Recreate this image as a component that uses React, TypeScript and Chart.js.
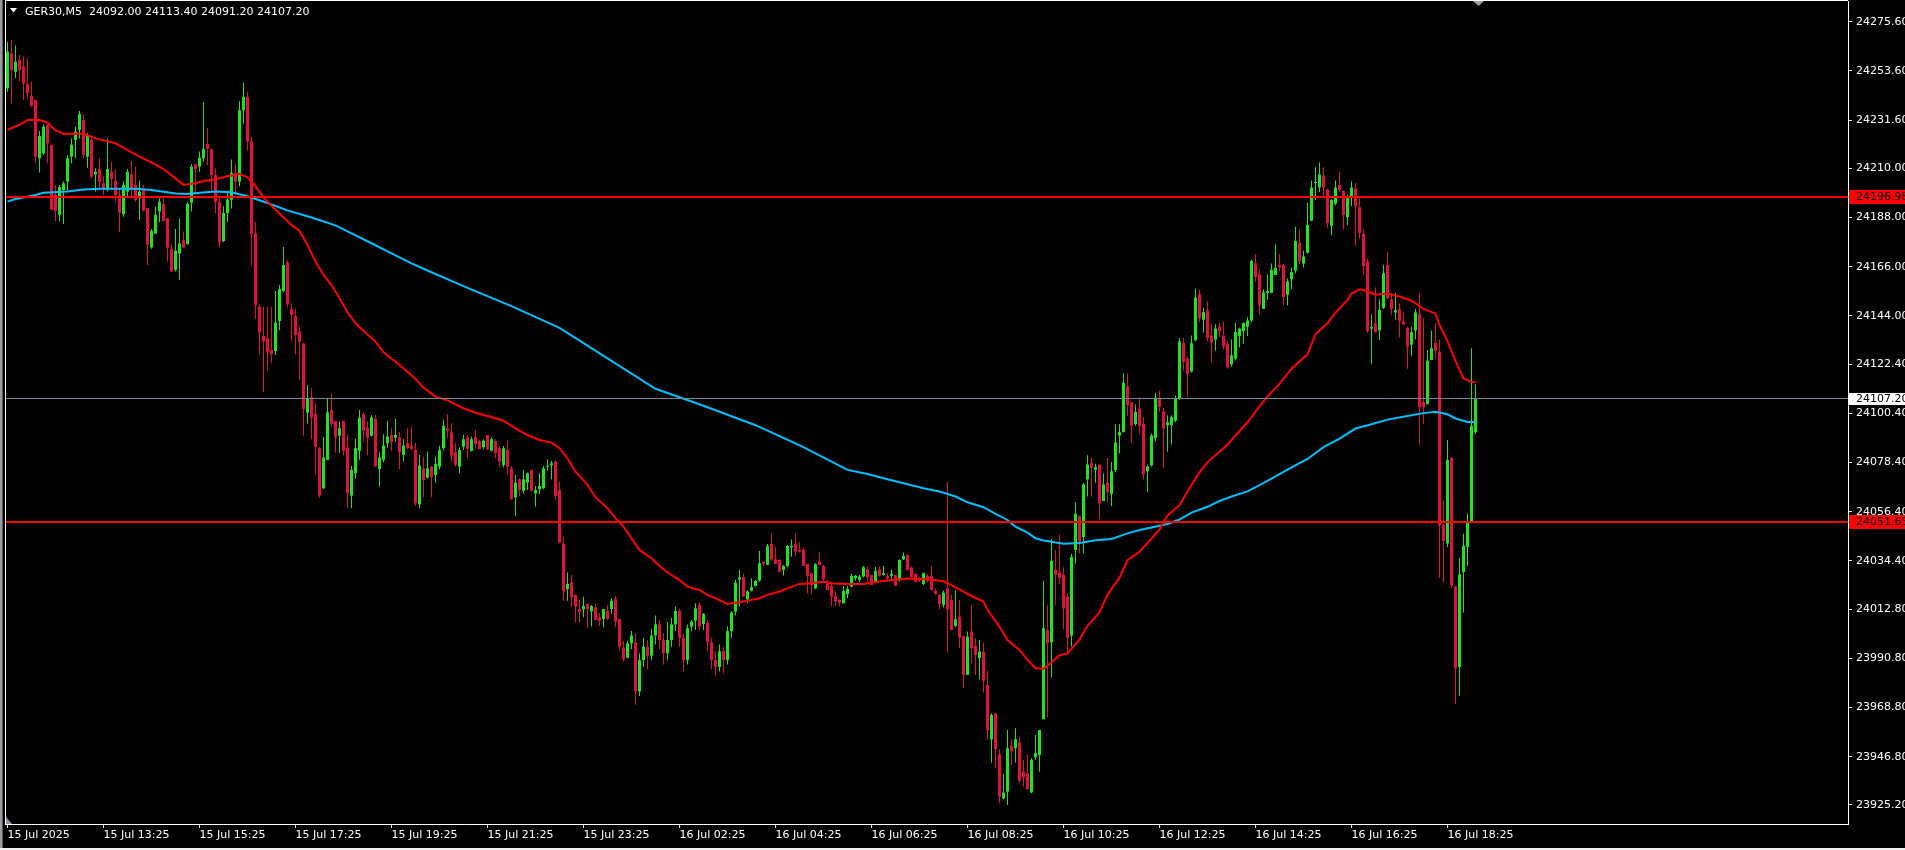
import React, { useEffect, useRef } from 'react';
import { Chart, registerables } from 'chart.js';

Chart.register(...registerables);

const symbolTitle = 'GER30,M5';

const opens = [
  24245.8, 24261.4, 24253.2, 24258.5, 24255.5, 24247.6, 24242.4, 24240.6, 24214.5, 24216.7,
  24229.4, 24220.5, 24198.1, 24189.2, 24200.3, 24204.1, 24215.2, 24222.7, 24227.2, 24231.6,
  24215.2, 24222.7, 24207.3, 24209.7, 24203.3, 24200.8, 24208.5, 24204.4, 24198.1, 24189.5,
  24199.6, 24207.3, 24202.6, 24196.6, 24200.3, 24192.2, 24174.6, 24180.8, 24190.7, 24194.1,
  24187.7, 24174.0, 24164.6, 24171.9, 24178.0, 24176.1, 24194.7, 24211.8, 24210.8, 24214.5,
  24220.9, 24218.5, 24207.0, 24195.0, 24177.5, 24190.0, 24196.0, 24208.0, 24204.0, 24236.0,
  24242.0, 24222.0, 24181.0, 24148.1, 24135.0, 24134.0, 24128.7, 24128.3, 24141.7, 24155.1,
  24168.0, 24147.1, 24144.0, 24137.0, 24131.7, 24100.7, 24107.6, 24100.1, 24084.8, 24066.9,
  24079.6, 24101.9, 24097.0, 24090.4, 24097.0, 24085.1, 24063.6, 24073.6, 24083.6, 24100.0,
  24094.0, 24090.4, 24097.9, 24075.5, 24079.6, 24087.0, 24090.7, 24089.5, 24089.7, 24081.8,
  24087.0, 24086.0, 24084.0, 24059.7, 24075.8, 24071.6, 24076.6, 24072.8, 24076.6, 24084.8,
  24093.7, 24091.9, 24083.0, 24076.6, 24085.5, 24089.7, 24083.6, 24089.7, 24088.0, 24085.2,
  24090.7, 24083.7, 24088.0, 24084.8, 24077.3, 24084.0, 24075.8, 24062.9, 24070.9, 24065.8,
  24069.4, 24075.1, 24064.6, 24066.4, 24066.9, 24076.6, 24077.3, 24078.8, 24066.1, 24042.0,
  24021.8, 24024.8, 24019.2, 24012.9, 24012.8, 24015.1, 24011.7, 24013.6, 24009.2, 24008.4,
  24012.1, 24012.9, 24017.4, 24008.3, 23995.6, 23991.1, 23997.5, 23998.0, 23976.0, 23990.0,
  23996.0, 23992.0, 24001.0, 24006.0, 23999.0, 23993.0, 23999.0, 24006.0, 24012.0, 24000.0,
  23990.0, 24005.0, 24007.7, 24014.7, 24006.2, 24006.8, 23998.0, 23990.0, 23987.0, 23994.0,
  23990.0, 24003.0, 24011.7, 24026.0, 24027.1, 24017.2, 24021.1, 24023.2, 24025.6, 24033.9,
  24032.6, 24042.0, 24035.1, 24034.8, 24030.4, 24032.1, 24040.5, 24042.0, 24039.3, 24039.6,
  24033.0, 24028.9, 24022.1, 24034.1, 24032.1, 24024.4, 24023.2, 24018.7, 24016.9, 24015.4,
  24019.6, 24022.9, 24026.6, 24025.9, 24027.4, 24030.6, 24028.1, 24025.1, 24030.6, 24028.1,
  24027.7, 24027.7, 24028.1, 24025.9, 24035.1, 24037.1, 24031.5, 24028.6, 24026.6, 24024.1,
  24027.7, 24027.7, 24021.1, 24019.2, 24014.7, 24022.1, 24016.9, 24005.3, 24009.5, 24000.8,
  23983.4, 24002.8, 23996.4, 23990.9, 23993.8, 23978.9, 23954.6, 23966.2, 23948.0, 23928.2,
  23931.2, 23951.6, 23950.6, 23953.1, 23940.1, 23939.4, 23930.8, 23946.6, 23947.6, 23963.6,
  24003.5, 23998.0, 24030.4, 24029.1, 24028.2, 24018.5, 24001.0, 24039.3, 24054.4, 24045.1,
  24070.9, 24078.2, 24075.1, 24077.5, 24061.2, 24069.4, 24064.3, 24075.1, 24090.5, 24092.0,
  24112.6, 24105.3, 24095.6, 24102.5, 24095.6, 24074.5, 24077.1, 24089.4, 24106.8, 24101.3,
  24095.1, 24095.1, 24097.1, 24106.8, 24131.8, 24124.9, 24119.2, 24133.1, 24153.7, 24142.3,
  24146.5, 24135.2, 24133.4, 24139.2, 24135.2, 24131.5, 24122.3, 24124.9, 24134.9, 24137.2,
  24139.2, 24141.9, 24167.6, 24162.6, 24147.1, 24154.3, 24154.3, 24162.3, 24166.8, 24166.8,
  24153.5, 24160.4, 24164.2, 24176.7, 24167.4, 24172.2, 24186.6, 24203.5, 24201.4, 24206.7,
  24200.6, 24184.3, 24194.2, 24202.6, 24199.8, 24188.2, 24197.1, 24200.9, 24192.6, 24180.7,
  24168.4, 24138.3, 24140.7, 24137.5, 24147.6, 24166.8, 24151.4, 24145.5, 24147.1, 24141.5,
  24138.6, 24131.1, 24137.5, 24144.7, 24105.6, 24104.5, 24124.3, 24131.9, 24127.9, 24050.5,
  24042.2, 24080.5, 24023.0, 23986.9, 24029.4, 24040.6, 24052.1, 24092.0,
];

const highs = [
  24266.6, 24267.4, 24264.9, 24260.7, 24260.0, 24259.2, 24248.8, 24240.6, 24226.7, 24229.7,
  24230.1, 24220.5, 24202.6, 24202.6, 24204.1, 24216.0, 24223.4, 24228.7, 24235.7, 24234.2,
  24225.7, 24224.9, 24210.0, 24214.5, 24206.3, 24223.4, 24213.0, 24209.7, 24201.1, 24204.1,
  24209.7, 24213.3, 24210.8, 24204.4, 24202.6, 24192.2, 24182.9, 24192.9, 24196.6, 24196.6,
  24187.7, 24176.1, 24182.9, 24187.7, 24181.7, 24195.1, 24211.8, 24212.1, 24217.5, 24239.8,
  24227.9, 24219.0, 24210.0, 24198.0, 24193.0, 24200.0, 24214.0, 24212.0, 24240.0, 24248.4,
  24244.0, 24224.0, 24186.0, 24149.2, 24148.1, 24148.1, 24148.1, 24155.1, 24157.8, 24174.8,
  24169.0, 24149.6, 24147.1, 24139.2, 24131.7, 24113.1, 24111.6, 24104.9, 24085.5, 24089.8,
  24107.4, 24108.9, 24097.0, 24096.7, 24097.0, 24090.7, 24077.0, 24088.9, 24101.9, 24100.7,
  24096.7, 24099.7, 24099.7, 24083.0, 24091.0, 24097.0, 24093.7, 24097.9, 24092.2, 24088.8,
  24093.7, 24094.5, 24087.0, 24081.8, 24081.0, 24083.3, 24076.9, 24081.0, 24085.8, 24097.7,
  24100.1, 24096.0, 24087.0, 24085.2, 24090.7, 24090.7, 24090.0, 24093.0, 24088.5, 24088.8,
  24090.7, 24089.7, 24088.8, 24085.8, 24085.8, 24088.0, 24076.9, 24072.8, 24071.3, 24075.1,
  24073.9, 24075.1, 24067.9, 24073.6, 24076.9, 24079.8, 24079.2, 24079.2, 24069.9, 24045.3,
  24029.2, 24028.1, 24019.2, 24016.9, 24018.4, 24015.1, 24014.7, 24015.1, 24011.0, 24012.9,
  24014.7, 24017.7, 24018.7, 24008.3, 23998.7, 23998.7, 24003.0, 24002.0, 23993.0, 24000.0,
  23999.0, 24004.0, 24010.0, 24008.0, 24002.0, 24007.2, 24009.0, 24014.0, 24013.0, 24002.0,
  24006.0, 24008.0, 24015.4, 24015.7, 24011.0, 24008.0, 24000.0, 23994.0, 23997.0, 23996.0,
  24005.0, 24012.0, 24025.9, 24030.4, 24028.6, 24021.4, 24026.6, 24025.9, 24038.8, 24034.2,
  24042.0, 24046.7, 24040.5, 24035.1, 24032.6, 24041.5, 24044.0, 24046.7, 24043.0, 24040.0,
  24033.0, 24029.2, 24033.3, 24038.1, 24032.6, 24025.9, 24025.1, 24020.7, 24017.2, 24023.2,
  24023.2, 24028.6, 24028.1, 24028.1, 24032.1, 24031.8, 24028.1, 24031.8, 24031.8, 24032.1,
  24028.9, 24030.6, 24028.1, 24035.1, 24038.1, 24037.1, 24031.5, 24028.9, 24027.4, 24029.2,
  24028.6, 24032.1, 24022.1, 24019.6, 24021.1, 24069.7, 24019.2, 24021.1, 24016.9, 24000.8,
  24002.8, 24014.7, 23999.8, 23999.0, 23997.8, 23985.3, 23966.2, 23966.2, 23950.1, 23939.1,
  23958.8, 23954.6, 23959.5, 23955.8, 23945.4, 23947.6, 23946.1, 23956.5, 23958.8, 24025.4,
  24014.7, 24044.2, 24039.3, 24046.2, 24031.6, 24020.0, 24037.5, 24060.6, 24054.7, 24069.4,
  24081.7, 24080.5, 24077.8, 24077.5, 24073.5, 24080.5, 24078.6, 24095.4, 24095.6, 24118.3,
  24118.3, 24105.3, 24104.4, 24107.5, 24098.7, 24077.5, 24091.4, 24109.5, 24110.5, 24102.8,
  24099.5, 24099.5, 24108.4, 24134.1, 24134.1, 24125.7, 24135.2, 24156.2, 24155.7, 24147.6,
  24150.7, 24140.3, 24140.3, 24140.8, 24141.4, 24132.6, 24133.4, 24140.8, 24138.8, 24141.1,
  24143.4, 24169.2, 24171.6, 24164.7, 24155.9, 24162.6, 24167.4, 24175.9, 24171.6, 24167.4,
  24160.7, 24165.5, 24183.9, 24182.7, 24173.2, 24194.6, 24204.6, 24210.5, 24212.6, 24210.5,
  24200.9, 24196.2, 24204.6, 24208.6, 24200.3, 24198.2, 24204.1, 24203.5, 24196.6, 24182.7,
  24169.5, 24144.7, 24156.7, 24151.4, 24166.8, 24172.7, 24154.3, 24154.3, 24149.5, 24145.5,
  24139.1, 24139.1, 24147.1, 24154.3, 24142.8, 24128.7, 24137.5, 24140.7, 24133.5, 24061.6,
  24088.5, 24080.8, 24023.3, 24035.8, 24046.5, 24055.6, 24129.5, 24113.4,
];

const lows = [
  24244.3, 24239.1, 24250.3, 24248.8, 24240.6, 24241.3, 24237.6, 24212.3, 24208.1, 24216.0,
  24212.3, 24191.4, 24186.5, 24186.2, 24185.1, 24199.6, 24212.3, 24214.5, 24223.4, 24214.5,
  24210.3, 24205.6, 24199.6, 24201.1, 24198.1, 24199.6, 24201.1, 24195.1, 24181.4, 24188.4,
  24196.6, 24196.6, 24195.1, 24186.9, 24190.7, 24166.8, 24174.0, 24180.7, 24185.9, 24186.2,
  24168.3, 24163.8, 24163.8, 24160.1, 24174.3, 24175.8, 24190.7, 24198.9, 24208.5, 24213.0,
  24211.5, 24199.6, 24190.0, 24174.5, 24176.9, 24186.0, 24192.0, 24198.0, 24202.0, 24230.0,
  24218.0, 24166.5, 24142.6, 24126.8, 24109.8, 24119.5, 24122.8, 24126.5, 24137.7, 24154.8,
  24147.7, 24132.5, 24126.8, 24115.3, 24090.4, 24095.7, 24088.8, 24073.1, 24062.7, 24066.6,
  24079.6, 24094.5, 24082.8, 24082.8, 24081.5, 24057.9, 24057.9, 24071.3, 24079.6, 24087.7,
  24081.5, 24090.0, 24076.6, 24067.6, 24078.5, 24085.1, 24083.6, 24087.7, 24075.5, 24078.8,
  24084.5, 24084.0, 24059.1, 24057.9, 24062.9, 24071.3, 24062.9, 24069.4, 24075.4, 24083.7,
  24089.2, 24078.8, 24076.6, 24073.6, 24084.0, 24080.3, 24083.3, 24084.8, 24084.3, 24084.3,
  24084.0, 24083.3, 24080.3, 24076.6, 24076.3, 24072.8, 24061.7, 24054.5, 24063.4, 24064.6,
  24066.1, 24065.4, 24058.7, 24064.3, 24066.4, 24074.8, 24070.9, 24061.7, 24042.6, 24016.6,
  24016.6, 24013.9, 24006.8, 24006.8, 24009.2, 24004.3, 24005.0, 24008.0, 24005.3, 24004.7,
  24008.0, 24010.7, 24004.7, 23994.3, 23989.3, 23990.8, 23995.0, 23970.0, 23974.0, 23987.0,
  23986.0, 23990.0, 23997.0, 23995.0, 23988.0, 23990.0, 23996.0, 24003.0, 23996.0, 23985.0,
  23988.0, 24003.0, 24003.5, 24003.5, 24003.5, 23994.0, 23986.0, 23983.0, 23985.0, 23984.0,
  23988.0, 24000.0, 24010.0, 24014.0, 24018.4, 24015.4, 24020.7, 24022.9, 24025.1, 24032.0,
  24032.6, 24034.5, 24033.0, 24029.2, 24027.7, 24031.5, 24036.3, 24036.6, 24038.1, 24032.1,
  24019.9, 24019.6, 24021.7, 24032.6, 24025.1, 24021.4, 24014.2, 24014.2, 24014.2, 24015.4,
  24017.7, 24022.6, 24025.6, 24025.1, 24027.1, 24025.1, 24023.6, 24024.7, 24027.4, 24027.7,
  24025.1, 24025.6, 24023.2, 24025.1, 24034.8, 24030.0, 24027.1, 24024.7, 24025.1, 24023.6,
  24024.7, 24021.4, 24019.2, 24012.7, 24013.6, 23993.4, 24003.5, 24004.7, 23995.3, 23977.4,
  23983.4, 23988.6, 23983.4, 23981.4, 23975.5, 23954.6, 23944.2, 23941.6, 23926.0, 23927.8,
  23925.2, 23943.1, 23944.2, 23935.2, 23933.4, 23932.2, 23930.5, 23945.4, 23940.1, 23963.6,
  23964.4, 23982.2, 24014.6, 24023.9, 24003.8, 23993.8, 23996.1, 24033.1, 24037.8, 24037.8,
  24063.2, 24063.2, 24069.4, 24053.2, 24061.2, 24060.9, 24059.0, 24074.0, 24082.5, 24092.0,
  24099.4, 24087.1, 24094.8, 24091.4, 24070.9, 24065.2, 24076.6, 24087.9, 24101.0, 24076.0,
  24083.2, 24086.3, 24096.4, 24106.4, 24119.5, 24107.5, 24118.7, 24132.6, 24141.1, 24136.5,
  24132.6, 24123.3, 24128.4, 24134.6, 24129.1, 24120.3, 24121.3, 24124.1, 24130.0, 24131.5,
  24134.9, 24141.1, 24159.3, 24144.7, 24147.1, 24151.1, 24154.3, 24162.3, 24163.9, 24148.7,
  24148.7, 24155.9, 24163.1, 24167.1, 24165.5, 24171.9, 24186.3, 24195.8, 24199.4, 24196.6,
  24183.4, 24180.2, 24193.5, 24199.4, 24182.7, 24184.7, 24193.0, 24175.4, 24178.6, 24162.3,
  24136.4, 24122.4, 24136.4, 24133.2, 24147.1, 24151.4, 24144.4, 24142.3, 24134.3, 24139.9,
  24120.4, 24125.9, 24133.5, 24086.4, 24095.5, 24104.5, 24124.3, 24124.8, 24026.8, 24024.9,
  24040.6, 24022.5, 23970.3, 23974.1, 24011.3, 24032.1, 24052.1, 24091.2,
];

const closes = [
  24262.2, 24254.0, 24257.7, 24254.0, 24248.0, 24243.6, 24237.9, 24215.2, 24224.5, 24228.7,
  24221.2, 24191.4, 24191.0, 24201.7, 24203.3, 24214.5, 24220.5, 24226.4, 24234.3, 24216.0,
  24224.9, 24206.3, 24208.5, 24204.1, 24200.3, 24209.7, 24205.3, 24198.1, 24190.2, 24202.6,
  24208.5, 24200.3, 24195.9, 24199.6, 24191.1, 24175.8, 24182.0, 24189.2, 24195.1, 24186.5,
  24174.6, 24163.8, 24173.1, 24176.4, 24174.6, 24194.1, 24210.8, 24209.7, 24214.8, 24218.7,
  24218.7, 24207.0, 24195.0, 24176.9, 24190.0, 24196.0, 24208.0, 24204.0, 24236.0, 24242.0,
  24222.0, 24180.6, 24148.9, 24136.6, 24132.5, 24127.6, 24126.8, 24141.0, 24156.0, 24166.8,
  24149.2, 24144.4, 24135.5, 24132.5, 24102.4, 24107.1, 24098.5, 24085.5, 24063.6, 24080.7,
  24100.9, 24095.7, 24089.6, 24093.7, 24083.6, 24064.6, 24075.1, 24084.8, 24098.5, 24092.7,
  24089.5, 24098.6, 24076.6, 24080.7, 24086.0, 24090.0, 24087.7, 24090.7, 24082.8, 24086.0,
  24084.8, 24084.5, 24060.2, 24077.0, 24070.6, 24075.8, 24071.8, 24077.8, 24084.0, 24094.8,
  24092.7, 24081.5, 24077.3, 24084.0, 24088.8, 24084.5, 24088.8, 24086.7, 24084.5, 24088.2,
  24084.3, 24088.8, 24082.5, 24078.8, 24084.8, 24076.6, 24062.0, 24069.4, 24066.1, 24070.9,
  24073.6, 24065.8, 24066.1, 24067.9, 24075.8, 24076.9, 24078.1, 24063.4, 24042.6, 24020.7,
  24024.1, 24018.1, 24013.9, 24011.7, 24014.2, 24012.8, 24014.2, 24008.0, 24007.7, 24012.9,
  24008.4, 24016.6, 24007.2, 23996.1, 23990.4, 23997.5, 24001.0, 23976.0, 23990.0, 23996.0,
  23992.0, 24001.0, 24006.0, 23999.0, 23993.0, 23999.0, 24006.0, 24012.0, 24000.0, 23990.0,
  24004.3, 24007.2, 24013.2, 24005.0, 24010.7, 23998.0, 23990.0, 23987.0, 23994.0, 23990.0,
  24003.0, 24011.3, 24024.7, 24027.0, 24018.4, 24020.7, 24022.6, 24025.4, 24033.3, 24032.9,
  24041.1, 24035.1, 24033.0, 24029.6, 24032.1, 24041.1, 24041.1, 24038.6, 24038.6, 24032.1,
  24027.7, 24023.6, 24032.9, 24032.6, 24026.2, 24021.4, 24018.4, 24016.2, 24015.7, 24020.9,
  24021.8, 24027.7, 24027.7, 24027.4, 24031.5, 24027.1, 24023.6, 24030.0, 24027.7, 24028.9,
  24026.6, 24028.6, 24023.2, 24034.8, 24036.6, 24030.4, 24027.1, 24025.1, 24025.6, 24028.9,
  24025.6, 24021.4, 24019.6, 24015.1, 24020.2, 24012.7, 24003.5, 24008.3, 24000.0, 23983.4,
  24000.5, 23995.3, 23992.3, 23993.8, 23980.8, 23958.5, 23965.5, 23950.1, 23928.9, 23930.8,
  23950.6, 23949.1, 23954.6, 23936.1, 23937.6, 23932.2, 23945.4, 23948.4, 23958.8, 24004.3,
  23997.5, 24034.5, 24028.2, 24026.9, 24013.1, 23999.9, 24036.2, 24055.5, 24043.1, 24068.6,
  24077.5, 24076.0, 24076.3, 24060.1, 24068.6, 24065.2, 24074.5, 24087.4, 24092.0, 24114.1,
  24104.1, 24094.8, 24101.0, 24094.8, 24073.2, 24076.6, 24090.5, 24107.5, 24103.3, 24093.6,
  24096.4, 24098.7, 24106.8, 24132.6, 24123.3, 24117.9, 24131.8, 24152.2, 24142.9, 24145.7,
  24134.1, 24132.1, 24138.3, 24137.2, 24130.3, 24121.0, 24126.4, 24136.8, 24138.3, 24140.8,
  24141.9, 24168.5, 24161.4, 24148.7, 24154.6, 24155.1, 24164.7, 24165.5, 24165.8, 24152.4,
  24159.4, 24163.6, 24177.5, 24168.4, 24170.6, 24184.7, 24201.4, 24203.8, 24207.3, 24201.4,
  24185.5, 24195.8, 24201.4, 24200.3, 24189.1, 24196.6, 24201.4, 24193.0, 24181.1, 24166.3,
  24137.1, 24139.1, 24136.7, 24146.6, 24163.1, 24151.9, 24147.1, 24146.6, 24141.8, 24140.2,
  24130.3, 24136.7, 24145.5, 24103.2, 24103.2, 24124.0, 24129.5, 24128.4, 24050.2, 24043.3,
  24079.5, 24023.3, 23986.2, 24028.4, 24041.2, 24051.7, 24094.9, 24107.2,
];

// moving averages: [candle index, price]
const redMaPoints: [number, number][] = [
  [0, 24227.2], [3, 24229.5], [5, 24231.6], [8, 24231.6], [10, 24230.5], [12, 24227.0], [14, 24225.5],
  [19, 24225.5], [22, 24223.4], [27, 24221.2], [30, 24218.2], [33, 24215.2], [36, 24212.7], [39, 24209.7],
  [42, 24205.5], [44, 24202.6], [47, 24203.3], [49, 24204.3], [52, 24205.1], [55, 24206.5], [58, 24207.5],
  [60, 24206.0], [62, 24202.0], [64, 24197.0], [67, 24191.5], [69, 24188.0], [71, 24184.7], [73, 24182.0],
  [75, 24175.7], [77, 24168.3], [79, 24162.3], [81, 24157.8], [83, 24151.9], [85, 24145.6], [87, 24140.7],
  [89, 24137.2], [92, 24132.5], [94, 24127.7], [97, 24123.5], [100, 24119.0], [102, 24115.8], [104, 24111.9],
  [107, 24107.9], [110, 24106.2], [114, 24102.7], [117, 24100.7], [120, 24099.2], [124, 24097.1], [127, 24093.7],
  [130, 24090.7], [133, 24088.5], [136, 24087.3], [138, 24084.8], [140, 24080.3], [142, 24074.3], [145, 24068.4],
  [147, 24062.9], [150, 24057.9], [152, 24053.5], [154, 24049.7], [156, 24044.5], [158, 24039.3], [161, 24035.6],
  [163, 24032.1], [165, 24029.2], [168, 24025.9], [170, 24022.9], [173, 24021.4], [175, 24019.2], [178, 24016.9],
  [180, 24015.1], [182, 24015.7], [185, 24016.6], [188, 24017.7], [190, 24019.2], [193, 24020.7], [195, 24022.1],
  [198, 24024.1], [201, 24024.4], [204, 24025.1], [206, 24024.4], [210, 24024.1], [214, 24024.1], [217, 24025.0],
  [220, 24025.6], [225, 24026.5], [230, 24026.2], [234, 24025.3], [236, 24023.6], [239, 24020.7], [241, 24018.7],
  [244, 24016.2], [245, 24012.5], [248, 24005.0], [250, 23999.0], [253, 23994.6], [255, 23990.1], [257, 23986.4],
  [259, 23986.2], [260, 23987.5], [263, 23992.2], [265, 23993.0], [268, 23999.2], [270, 24005.4], [273, 24011.5],
  [275, 24019.2], [278, 24026.9], [280, 24034.7], [283, 24038.5], [285, 24042.4], [288, 24048.5], [290, 24054.7],
  [293, 24059.3], [295, 24065.5], [298, 24074.0], [300, 24078.6], [303, 24083.2], [305, 24086.3], [307, 24090.5],
  [310, 24096.4], [313, 24103.5], [315, 24108.0], [318, 24113.6], [321, 24120.4], [325, 24126.8], [327, 24135.9],
  [330, 24140.7], [332, 24145.5], [335, 24151.1], [336, 24154.0], [338, 24155.9], [340, 24155.1], [342, 24153.5],
  [345, 24154.0], [348, 24152.7], [351, 24150.8], [354, 24147.1], [357, 24145.0], [358, 24139.9], [360, 24132.7],
  [362, 24123.9], [364, 24116.0], [366, 24114.4], [367, 24114.4],
];

const blueMaPoints: [number, number][] = [
  [0, 24195.1], [2, 24196.3], [4, 24197.0], [7, 24198.1], [9, 24199.1], [15, 24199.6], [19, 24200.5],
  [23, 24200.9], [32, 24200.9], [36, 24200.3], [42, 24198.8], [45, 24198.5], [48, 24199.1], [52, 24199.6],
  [56, 24199.3], [60, 24197.5], [65, 24194.5], [70, 24191.2], [76, 24188.0], [82, 24184.5], [86, 24180.9],
  [91, 24176.5], [96, 24172.0], [101, 24167.5], [105, 24164.3], [115, 24156.5], [126, 24148.4], [138, 24138.6],
  [150, 24125.0], [162, 24111.4], [174, 24103.8], [187, 24095.1], [199, 24085.3], [210, 24075.1], [215, 24073.3],
  [220, 24070.9], [224, 24069.1], [229, 24066.9], [233, 24065.4], [237, 24063.2], [240, 24060.6], [244, 24058.4],
  [247, 24055.4], [250, 24052.7], [252, 24049.7], [255, 24047.0], [257, 24044.5], [259, 24043.5], [261, 24043.0],
  [264, 24042.1], [268, 24042.4], [272, 24043.6], [276, 24044.2], [280, 24046.7], [283, 24048.2], [286, 24049.3],
  [290, 24050.9], [293, 24052.9], [296, 24056.0], [300, 24058.6], [303, 24061.2], [306, 24063.2], [310, 24065.5],
  [313, 24068.3], [316, 24071.2], [320, 24075.2], [325, 24080.0], [329, 24085.3], [333, 24089.1], [337, 24093.6],
  [341, 24095.5], [345, 24097.6], [350, 24099.2], [354, 24100.5], [357, 24101.1], [360, 24100.0], [362, 24098.1],
  [365, 24096.5], [367, 24096.5],
];

const levelLines = [24196.98, 24051.65];

const yTickValues = [
  24275.6, 24253.6, 24231.6, 24210.0, 24188.0, 24166.0, 24144.0, 24122.4, 24100.4,
  24078.4, 24056.4, 24034.4, 24012.8, 23990.8, 23968.8, 23946.8, 23925.2,
];

const xTickIndices = [0, 24, 48, 72, 96, 120, 144, 168, 192, 216, 240, 264, 288, 312, 336, 360];
const xTickLabels = [
  '15 Jul 2025', '15 Jul 13:25', '15 Jul 15:25', '15 Jul 17:25', '15 Jul 19:25', '15 Jul 21:25',
  '15 Jul 23:25', '16 Jul 02:25', '16 Jul 04:25', '16 Jul 06:25', '16 Jul 08:25', '16 Jul 10:25',
  '16 Jul 12:25', '16 Jul 14:25', '16 Jul 16:25', '16 Jul 18:25',
];

const BULL = '#22E022';
const BEAR = '#DC143C';
const FONT = 'DejaVu Sans';

export default function App() {
  const ref = useRef<HTMLCanvasElement | null>(null);

  useEffect(() => {
    document.body.style.margin = '0';
    document.body.style.overflow = 'hidden';
    document.body.style.background = '#000';
    const canvas = ref.current;
    if (!canvas) return;
    const last = closes.length - 1;
    const isBull = (i: number) => closes[i] >= opens[i];

    const bodies = opens.map((o, i) => {
      const c = closes[i];
      let lo = Math.min(o, c);
      let hi = Math.max(o, c);
      if (hi - lo < 0.45) {
        const m = (hi + lo) / 2;
        lo = m - 0.225;
        hi = m + 0.225;
      }
      return { x: i, y: [lo, hi] };
    });
    const wicks = highs.map((h, i) => ({ x: i, y: [lows[i], h] }));

    const decor = {
      id: 'decor',
      beforeDraw(chart: any) {
        const { ctx, width, height } = chart;
        ctx.save();
        ctx.fillStyle = '#000';
        ctx.fillRect(0, 0, width, height);
        ctx.restore();
      },
      afterDatasetsDraw(chart: any) {
        const { ctx, chartArea: a, scales } = chart;
        const y = scales.y;
        ctx.save();
        ctx.beginPath();
        ctx.rect(a.left, a.top, a.right - a.left, a.bottom - a.top);
        ctx.clip();
        const py = Math.round(y.getPixelForValue(closes[last])) + 0.5;
        ctx.strokeStyle = '#778899';
        ctx.lineWidth = 1;
        ctx.beginPath();
        ctx.moveTo(a.left, py);
        ctx.lineTo(a.right, py);
        ctx.stroke();
        ctx.fillStyle = '#FF0000';
        levelLines.forEach((v) => {
          const yy = Math.round(y.getPixelForValue(v));
          ctx.fillRect(a.left, yy - 1, a.right - a.left, 2);
        });
        ctx.restore();
      },
      afterDraw(chart: any) {
        const { ctx, chartArea: a, scales, width, height } = chart;
        const y = scales.y;
        ctx.save();
        // window edges and frame
        ctx.fillStyle = '#9A9A9A';
        ctx.fillRect(0, 0, 2, height);
        ctx.fillStyle = '#5A5A5A';
        ctx.fillRect(2, 0, 1, height);
        ctx.fillStyle = '#FFFFFF';
        ctx.fillRect(a.left - 1, 0, 1, a.bottom + 1);
        ctx.fillRect(a.left - 1, 0, a.right - a.left + 1, 1);
        ctx.fillStyle = '#F0F0F0';
        ctx.fillRect(0, height - 2, width, 2);
        // shift markers
        ctx.fillStyle = '#8C96A0';
        ctx.beginPath();
        ctx.moveTo(a.left, a.bottom - 7);
        ctx.lineTo(a.left, a.bottom);
        ctx.lineTo(a.left + 6, a.bottom);
        ctx.closePath();
        ctx.fill();
        ctx.fillStyle = '#A0A0A0';
        ctx.beginPath();
        ctx.moveTo(1473, 1);
        ctx.lineTo(1484, 1);
        ctx.lineTo(1478.5, 6);
        ctx.closePath();
        ctx.fill();
        // header
        ctx.fillStyle = '#FFFFFF';
        ctx.beginPath();
        ctx.moveTo(10, 8);
        ctx.lineTo(17, 8);
        ctx.lineTo(13.5, 12.5);
        ctx.closePath();
        ctx.fill();
        ctx.font = `11px "${FONT}"`;
        ctx.textBaseline = 'alphabetic';
        ctx.textAlign = 'left';
        const header = `${symbolTitle}  ${opens[last].toFixed(2)} ${highs[last].toFixed(2)} ${lows[last].toFixed(2)} ${closes[last].toFixed(2)}`;
        ctx.fillText(header, 25, 15);
        // price labels on the axis
        ctx.textBaseline = 'middle';
        const boxX = a.right + 1;
        levelLines.forEach((v) => {
          const yy = Math.round(y.getPixelForValue(v));
          ctx.fillStyle = '#FF0000';
          ctx.fillRect(boxX, yy - 7, width - boxX, 14);
          ctx.fillStyle = '#000000';
          ctx.fillText(v.toFixed(2), a.right + 8, yy + 0.5);
        });
        const cy = Math.round(y.getPixelForValue(closes[last]));
        ctx.fillStyle = '#FFFFFF';
        ctx.fillRect(boxX, cy - 5, width - boxX, 12);
        ctx.fillStyle = '#000000';
        ctx.fillText(closes[last].toFixed(2), a.right + 8, cy + 1);
        ctx.restore();
      },
    };

    const chart = new Chart(canvas, {
      type: 'bar',
      data: {
        datasets: [
          {
            type: 'line',
            label: 'MA fast',
            data: redMaPoints.map(([x, v]) => ({ x, y: v })),
            borderColor: '#FF0000',
            borderWidth: 2,
            pointRadius: 0,
            fill: false,
            tension: 0,
            order: 1,
          } as any,
          {
            type: 'line',
            label: 'MA slow',
            data: blueMaPoints.map(([x, v]) => ({ x, y: v })),
            borderColor: '#00BFFF',
            borderWidth: 2,
            pointRadius: 0,
            fill: false,
            tension: 0,
            order: 2,
          } as any,
          {
            type: 'bar',
            label: 'bodies',
            data: bodies as any,
            backgroundColor: (c: any) => (isBull(c.dataIndex) ? BULL : BEAR),
            barThickness: 3,
            grouped: false,
            borderWidth: 0,
            borderSkipped: false,
            inflateAmount: 0,
            order: 3,
          } as any,
          {
            type: 'bar',
            label: 'wicks',
            data: wicks as any,
            backgroundColor: (c: any) => (isBull(c.dataIndex) ? BULL : BEAR),
            barThickness: 1,
            grouped: false,
            borderWidth: 0,
            borderSkipped: false,
            inflateAmount: 0,
            order: 4,
          } as any,
        ],
      },
      options: {
        responsive: false,
        maintainAspectRatio: false,
        devicePixelRatio: 1,
        animation: false,
        events: [],
        layout: { autoPadding: false, padding: { left: 6, top: 1, right: 0, bottom: 0 } },
        plugins: { legend: { display: false }, tooltip: { enabled: false }, title: { display: false } },
        scales: {
          x: {
            type: 'linear',
            position: 'bottom',
            min: -0.375,
            max: 460.125,
            offset: false,
            bounds: 'data',
            afterBuildTicks: (s: any) => {
              s.ticks = xTickIndices.map((v) => ({ value: v }));
            },
            afterFit: (s: any) => {
              s.height = 26;
              s.paddingLeft = 0;
              s.paddingRight = 0;
              s.paddingTop = 0;
              s.paddingBottom = 0;
            },
            ticks: {
              autoSkip: false,
              maxRotation: 0,
              minRotation: 0,
              align: 'start',
              padding: 1,
              color: '#FFFFFF',
              font: { family: FONT, size: 11 },
              callback: (_v: any, idx: number) => xTickLabels[idx] ?? '',
            },
            grid: { display: true, offset: false, drawOnChartArea: false, drawTicks: true, tickLength: 4, color: '#FFFFFF' },
            border: { display: true, color: '#FFFFFF', width: 1 },
          },
          y: {
            type: 'linear',
            position: 'right',
            min: 23916.7,
            max: 24284.86,
            bounds: 'data',
            afterBuildTicks: (s: any) => {
              s.ticks = yTickValues.map((v) => ({ value: v }));
            },
            afterFit: (s: any) => {
              s.width = 57;
              s.paddingLeft = 0;
              s.paddingRight = 0;
              s.paddingTop = 0;
              s.paddingBottom = 0;
            },
            ticks: {
              autoSkip: false,
              padding: 4,
              color: '#FFFFFF',
              font: { family: FONT, size: 11 },
              callback: (v: any) => Number(v).toFixed(2),
            },
            grid: { display: true, drawOnChartArea: false, drawTicks: true, tickLength: 4, color: '#FFFFFF' },
            border: { display: true, color: '#FFFFFF', width: 1 },
          },
        },
      } as any,
      plugins: [decor],
    });

    return () => {
      chart.destroy();
    };
  }, []);

  return <canvas ref={ref} width={1905} height={850} style={{ display: 'block' }} />;
}
